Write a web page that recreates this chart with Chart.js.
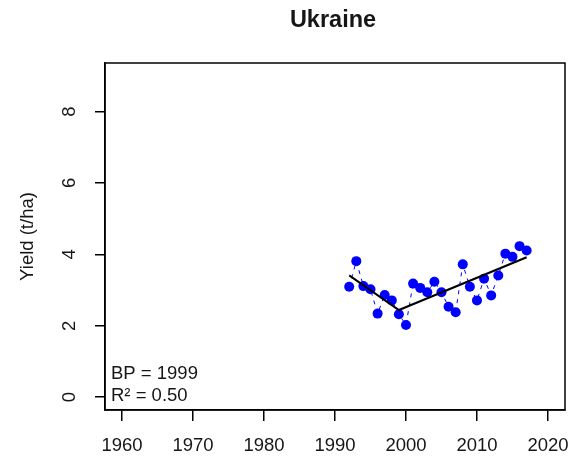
<!DOCTYPE html>
<html>
<head>
<meta charset="utf-8">
<script src="https://cdn.jsdelivr.net/npm/chart.js@4/dist/chart.umd.min.js"></script>
<style>
  html, body { margin: 0; padding: 0; background: #fff; }
  #wrap { width: 577px; height: 459px; }
</style>
</head>
<body>
<div id="wrap"><canvas id="chart" width="577" height="459"></canvas></div>
<script>
const years = [1992, 1993, 1994, 1995, 1996, 1997, 1998, 1999, 2000, 2001, 2002, 2003, 2004,
               2005, 2006, 2007, 2008, 2009, 2010, 2011, 2012, 2013, 2014, 2015, 2016, 2017];
const yields = [3.09, 3.81, 3.11, 3.02, 2.34, 2.86, 2.71, 2.32, 2.02, 3.18, 3.06, 2.94, 3.23,
                2.94, 2.53, 2.38, 3.72, 3.09, 2.71, 3.32, 2.85, 3.41, 4.02, 3.93, 4.23, 4.11];
const fitYears = [1992, 1999, 2017];
const fitValues = [3.41, 2.44, 3.92];
const xTicks = [1960, 1970, 1980, 1990, 2000, 2010, 2020];
const yTicks = [0, 2, 4, 6, 8];
const titleText = 'Ukraine';
const yLabel = 'Yield (t/ha)';
const notes = ['BP = 1999', 'R\u00b2 = 0.50'];

const FONT = "'Liberation Sans', Arial, Helvetica, sans-serif";
const INK = '#161616';
Chart.defaults.font.family = FONT;
Chart.defaults.color = INK;

// box, title, axis label and BP text, R base-graphics style
const decor = {
  id: 'decor',
  afterDraw(chart) {
    const { ctx, chartArea: a } = chart;
    ctx.save();
    ctx.strokeStyle = '#000';
    ctx.lineWidth = 1.5;
    ctx.strokeRect(a.left, a.top, a.right - a.left, a.bottom - a.top);

    ctx.fillStyle = INK;
    ctx.textBaseline = 'middle';
    ctx.textAlign = 'center';
    ctx.font = 'bold 23.5px ' + FONT;
    ctx.fillText(titleText, 333, 21);

    ctx.font = '18.5px ' + FONT;
    ctx.save();
    ctx.translate(28, (a.top + a.bottom) / 2);
    ctx.rotate(-Math.PI / 2);
    ctx.fillText(yLabel, 0, 0);
    ctx.restore();

    ctx.textAlign = 'left';
    ctx.fillText(notes[0], a.left + 6, 374);
    ctx.fillText(notes[1], a.left + 6, 395.5);
    ctx.restore();
  }
};

new Chart(document.getElementById('chart'), {
  type: 'scatter',
  data: {
    datasets: [
      {
        label: 'fit',
        type: 'line',
        data: fitYears.map((x, i) => ({ x: x, y: fitValues[i] })),
        borderColor: '#000',
        borderWidth: 2,
        pointRadius: 0,
        fill: false,
        order: 1
      },
      {
        label: 'yield',
        data: years.map((x, i) => ({ x: x, y: yields[i] })),
        showLine: true,
        borderColor: '#0000ff',
        borderWidth: 1,
        borderDash: [4, 5],
        pointBackgroundColor: '#0000ff',
        pointBorderWidth: 0,
        pointRadius: 5,
        order: 2
      }
    ]
  },
  options: {
    responsive: false,
    animation: false,
    layout: { padding: { left: 0, top: 63, right: 12, bottom: 0 } },
    plugins: { legend: { display: false }, tooltip: { enabled: false }, title: { display: false } },
    scales: {
      x: {
        type: 'linear',
        min: 1957.6,
        max: 2022.4,
        afterBuildTicks: s => { s.ticks = xTicks.map(v => ({ value: v })); },
        afterFit: s => { s.height = 49; s.paddingLeft = 0; s.paddingRight = 0; },
        grid: { drawOnChartArea: false, drawTicks: true, tickLength: 11, color: '#000', lineWidth: 1.5 },
        border: { display: true, color: '#000', width: 1.5 },
        ticks: { font: { size: 18.5 }, color: INK, padding: 14, maxRotation: 0, autoSkip: false,
                 callback: v => String(v) }
      },
      y: {
        type: 'linear',
        min: -0.36,
        max: 9.36,
        afterBuildTicks: s => { s.ticks = yTicks.map(v => ({ value: v })); },
        afterFit: s => { s.width = 105; s.paddingTop = 0; s.paddingBottom = 0; },
        grid: { drawOnChartArea: false, drawTicks: true, tickLength: 10, color: '#000', lineWidth: 1.5 },
        border: { display: true, color: '#000', width: 1.5 },
        ticks: { font: { size: 18.5 }, color: INK, padding: 20, minRotation: 90, maxRotation: 90,
                 crossAlign: 'center', autoSkip: false, callback: v => String(v) }
      }
    }
  },
  plugins: [decor]
});
</script>
</body>
</html>
